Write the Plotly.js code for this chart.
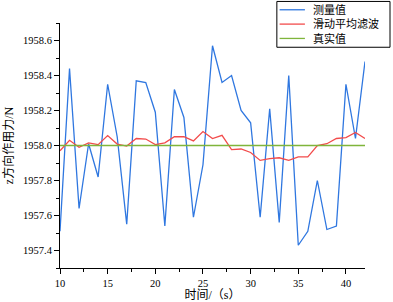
<!DOCTYPE html>
<html>
<head>
<meta charset="utf-8">
<script src="https://cdn.plot.ly/plotly-3.0.1.min.js"></script>
<style>html,body{margin:0;padding:0;background:#fff;}#chart{width:393px;height:302px;}</style>
</head>
<body>
<div id="chart"></div>
<script>
const timeS = [10,11,12,13,14,15,16,17,18,19,20,21,22,23,24,25,26,27,28,29,30,31,32,33,34,35,36,37,38,39,40,41,42];
const measured = [1957.51,1958.44,1957.64,1958.01,1957.82,1958.35,1958.05,1957.55,1958.37,1958.36,1958.19,1957.54,1958.32,1958.16,1957.59,1957.89,1958.57,1958.36,1958.40,1958.20,1958.13,1957.59,1958.21,1957.56,1958.40,1957.43,1957.51,1957.80,1957.52,1957.54,1958.35,1958.04,1958.48];
const smoothed = [1957.97,1958.03,1957.99,1958.015,1958.005,1958.057,1958.008,1957.997,1958.04,1958.037,1958.005,1958.015,1958.05,1958.05,1958.026,1958.08,1958.04,1958.058,1957.977,1957.98,1957.96,1957.915,1957.925,1957.93,1957.915,1957.935,1957.935,1958.0,1958.01,1958.04,1958.045,1958.074,1958.04];
const trueValue = timeS.map(() => 1958.0);
const seriesNames = ['测量值','滑动平均滤波','真实值'];
const seriesColors = ['#2f77e0','#f24b4b','#7fb53b'];
const yTitle = 'z方向作用力/N';
const xTitle = '时间/（s）';

const xNumFont = 'Liberation Serif';
const yNumFont = 'Times New Roman';
const cjkFont = 'Liberation Serif, Noto Sans CJK SC';

const traces = [timeS, timeS, timeS].map((xs, i) => ({
  x: xs, y: [measured, smoothed, trueValue][i], name: seriesNames[i],
  mode: 'lines', line: {color: seriesColors[i], width: 1.3}, showlegend: false
}));

// legend drawn in paper coordinates
const L = {x0: 0.711, x1: 1.082, y0: 0.901, y1: 1.088, lx0: 0.72, lx1: 0.803, tx: 0.826, rows: [1.054, 0.9955, 0.937]};
const shapes = [{type: 'rect', xref: 'paper', yref: 'paper', x0: L.x0, x1: L.x1, y0: L.y0, y1: L.y1,
  line: {color: '#000', width: 1}, fillcolor: '#fff', layer: 'above'}];
seriesNames.forEach((nm, i) => {
  shapes.push({type: 'line', xref: 'paper', yref: 'paper', x0: L.lx0, x1: L.lx1, y0: L.rows[i], y1: L.rows[i],
    line: {color: seriesColors[i], width: 1.3}, layer: 'above'});
});
const annotations = [{xref: 'paper', yref: 'paper', x: L.tx, y: L.rows[1], xanchor: 'left', yanchor: 'middle',
  align: 'left', text: seriesNames.join('<br>'), showarrow: false, borderpad: 0,
  font: {family: cjkFont, size: 11, color: '#000'}}];

const axisCommon = {
  showgrid: false, zeroline: false, showline: true, linecolor: '#000', linewidth: 1,
  ticks: 'outside', ticklen: 5, tickwidth: 1, tickcolor: '#000'
};
const layout = {
  width: 393, height: 302,
  margin: {l: 60, r: 28, t: 23, b: 34, autoexpand: false},
  paper_bgcolor: '#fff', plot_bgcolor: '#fff',
  showlegend: false,
  shapes: shapes, annotations: annotations,
  xaxis: Object.assign({}, axisCommon, {
    range: [10, 42], tick0: 10, dtick: 5,
    tickfont: {family: xNumFont, size: 10.5, color: '#000'},
    minor: {dtick: 2.5, ticks: 'outside', ticklen: 3, tickcolor: '#000', showgrid: false},
    title: {text: xTitle, font: {family: cjkFont, size: 12, color: '#000'}, standoff: 9}
  }),
  yaxis: Object.assign({}, axisCommon, {
    range: [1957.3, 1958.7], tick0: 1957.4, dtick: 0.2, tickformat: '.1f',
    tickfont: {family: yNumFont, size: 10.5, color: '#000'},
    minor: {dtick: 0.1, ticks: 'outside', ticklen: 3, tickcolor: '#000', showgrid: false},
    title: {text: yTitle, font: {family: cjkFont, size: 12, color: '#000'}, standoff: 6}
  })
};
Plotly.newPlot('chart', traces, layout, {displayModeBar: false, staticPlot: true});
</script>
</body>
</html>
